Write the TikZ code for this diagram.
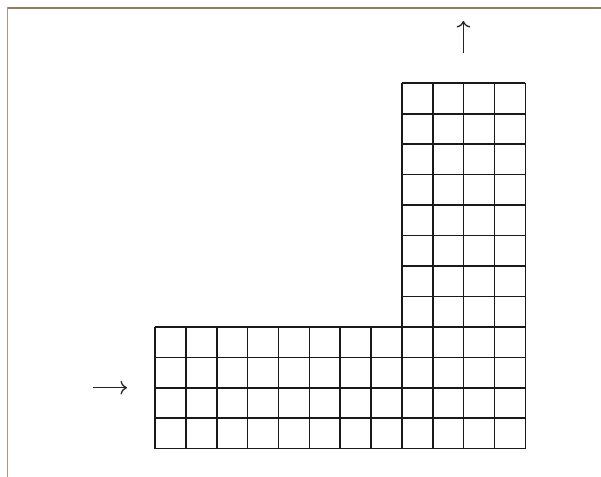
\documentclass[tikz,border=0pt]{standalone}
\usetikzlibrary{arrows.meta}
\begin{document}
\begin{tikzpicture}[x=0.75pt,y=-0.75pt,
  gridline/.style={line width=1.6pt*0.75, black!90},
  flow/.style={-{To[scale=1.3]}, line width=1.3pt*0.75, black!85},
  frametop/.style={line width=1.6pt*0.75, color={rgb,255:red,150;green,125;blue,95}},
  frameleft/.style={line width=1.6pt*0.75, color={rgb,255:red,165;green,152;blue,138}}]
\useasboundingbox (0,0) rectangle (601,477);
\fill[white] (0,0) rectangle (601,477);
% frame
\draw[frametop] (6.5,8) -- (601,8);
\draw[frameleft] (7.3,7.5) -- (7.3,477);
% grid geometry
\def\sx{30.86}
\def\sy{30.45}
\def\xo{155}
\def\yo{448.7}
% bottom band: 12 columns x 4 rows
\foreach \i in {0,...,12} {
  \draw[gridline] ({\xo+\i*\sx},\yo) -- ({\xo+\i*\sx},{\yo-4*\sy});
}
\foreach \j in {0,...,4} {
  \draw[gridline] (\xo,{\yo-\j*\sy}) -- ({\xo+12*\sx},{\yo-\j*\sy});
}
% vertical tower: 4 columns x 8 rows above
\foreach \i in {8,...,12} {
  \draw[gridline] ({\xo+\i*\sx},{\yo-4*\sy}) -- ({\xo+\i*\sx},{\yo-12*\sy});
}
\foreach \j in {5,...,12} {
  \draw[gridline] ({\xo+8*\sx},{\yo-\j*\sy}) -- ({\xo+12*\sx},{\yo-\j*\sy});
}
% arrows
\coordinate (inS) at (93.3,387.7);
\coordinate (inE) at (127,387.7);
\coordinate (outS) at (463.4,53);
\coordinate (outE) at (463.4,21);
\draw[flow] (inS) -- (inE);
\draw[flow] (outS) -- (outE);
\end{tikzpicture}
\end{document}
